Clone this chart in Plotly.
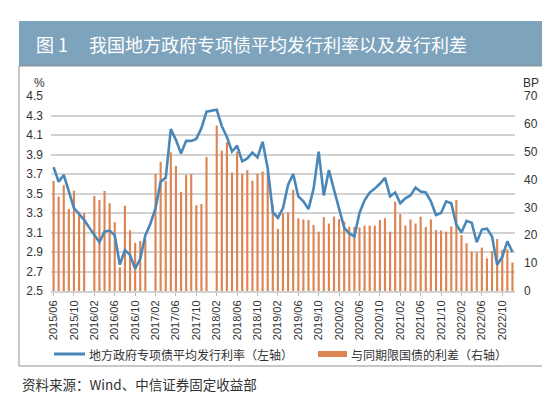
import plotly.graph_objects as go

# ---------------- data ----------------
months = [f"{y}/{m:02d}" for y in range(2015, 2023) for m in range(1, 13)][5:]  # 2015/06 .. 2022/12

rate = [3.77, 3.62, 3.69, 3.52, 3.35, 3.29, 3.23, 3.15, 3.07, 3.00,
        3.11, 3.12, 3.07, 2.77, 2.92, 2.87, 2.73, 2.83, 3.07, 3.19,
        3.35, 3.62, 3.66, 4.16, 4.05, 3.91, 4.04, 4.04, 4.06, 4.17,
        4.34, 4.35, 4.36, 4.19, 4.08, 3.93, 3.99, 3.83, 3.86, 3.92,
        3.87, 4.03, 3.76, 3.31, 3.25, 3.35, 3.59, 3.70, 3.47, 3.42,
        3.34, 3.55, 3.93, 3.48, 3.74, 3.54, 3.33, 3.15, 3.09, 3.06,
        3.30, 3.43, 3.51, 3.55, 3.60, 3.66, 3.47, 3.51, 3.40, 3.45,
        3.48, 3.56, 3.52, 3.51, 3.42, 3.28, 3.30, 3.42, 3.40, 3.18,
        3.10, 3.22, 3.20, 3.00, 3.13, 3.14, 3.06, 2.77, 2.85, 3.01,
        2.90]

spread = [39.5, 33.9, 38.0, 29.4, 36.0, 28.5, 28.0, None, 34.1, 32.7,
          35.9, 31.5, 24.7, 8.5, 30.6, 21.8, 17.3, 18.0, 18.5, None,
          42.0, 46.4, 39.5, 49.8, 44.9, 35.6, 41.6, 42.0, 30.8, 31.2,
          48.1, None, 59.4, 50.4, 53.4, 42.5, 50.0, 42.1, 43.4, 39.6,
          42.1, 42.9, 43.0, 31.0, 22.3, 27.9, 28.2, 36.3, 26.1, 25.7,
          25.5, 23.7, 21.3, 26.5, 24.2, 26.7, 25.8, 24.9, 23.1, 23.0,
          22.8, 23.5, 23.5, 23.5, 25.5, 26.1, 21.3, 32.1, 27.6, 23.5,
          25.7, 24.2, 26.7, 23.0, 25.7, 21.9, 21.7, 21.3, 23.2, 32.7,
          20.1, 17.1, 14.1, 13.8, 15.6, 11.7, 14.4, 18.7, 14.8, 15.0,
          10.2]

tick_labels = ["2015/06", "2015/10", "2016/02", "2016/06", "2016/10", "2017/02",
               "2017/06", "2017/10", "2018/02", "2018/06", "2018/10", "2019/02",
               "2019/06", "2019/10", "2020/02", "2020/06", "2020/10", "2021/02",
               "2021/06", "2021/10", "2022/02", "2022/06", "2022/10"]

rate_ticks = [2.5, 2.7, 2.9, 3.1, 3.3, 3.5, 3.7, 3.9, 4.1, 4.3, 4.5]
bp_ticks = [0, 10, 20, 30, 40, 50, 60, 70]

title_no = "图 1"
title_text = "我国地方政府专项债平均发行利率以及发行利差"
legend_line = "地方政府专项债平均发行利率（左轴）"
legend_bar = "与同期限国债的利差（右轴）"
source_text = "资料来源：Wind、中信证券固定收益部"

# ---------------- style ----------------
W, H = 550, 394
L, R, T, B = 43, 507, 88, 283
BLUE = "#4a87b9"
ORANGE = "#dc8552"
GRID = "#d2d2d2"
TXT = "#333333"
BAR_BG = "#7ea3bd"
NUM_FONT = "Liberation Sans, Arial, Noto Sans CJK SC, sans-serif"
CJK_FONT = "Noto Sans CJK SC, sans-serif"


def px(x):
    return (x - L) / (R - L)


def py(y):
    return (B - y) / (B - T)


fig = go.Figure()
fig.add_trace(go.Bar(x=months, y=spread, yaxis="y", marker=dict(color=ORANGE, line=dict(width=0)),
                     width=0.42, showlegend=False, name=legend_bar))
fig.add_trace(go.Scatter(x=months, y=rate, yaxis="y2", mode="lines",
                         line=dict(color=BLUE, width=2.6), showlegend=False, name=legend_line))

fig.update_layout(
    width=W, height=H,
    margin=dict(l=L, r=W - R, t=T, b=H - B, pad=0),
    paper_bgcolor="white", plot_bgcolor="white",
    font=dict(family=NUM_FONT, color=TXT, size=12),
    xaxis=dict(type="category", range=[-0.5, len(months) - 0.5],
               tickmode="array", tickvals=tick_labels, ticktext=tick_labels,
               tickangle=-90, tickfont=dict(size=11, color=TXT),
               ticks="outside", ticklen=3, tickcolor="#bbbbbb", tickwidth=1,
               showgrid=False, showline=True, linecolor=GRID, linewidth=2,
               zeroline=False),
    yaxis=dict(side="right", range=[0, 70], tickmode="array", tickvals=bp_ticks,
               ticktext=[str(v) for v in bp_ticks], showgrid=False, zeroline=False,
               tickfont=dict(size=12, color=TXT), ticklabelstandoff=8),
    yaxis2=dict(side="left", overlaying="y", range=[2.5, 4.5], tickmode="array",
                tickvals=rate_ticks, ticktext=[f"{v:.1f}" for v in rate_ticks],
                showgrid=True, gridcolor=GRID, gridwidth=2, zeroline=False,
                tickfont=dict(size=12, color=TXT), ticklabelstandoff=7),
    bargap=0.5,
)

shapes = [
    dict(type="rect", xref="paper", yref="paper", x0=px(11), x1=px(539), y0=py(58), y1=py(13),
         fillcolor=BAR_BG, line=dict(width=0), layer="below"),
    dict(type="rect", xref="paper", yref="paper", x0=px(11), x1=px(539), y0=py(358), y1=py(58),
         fillcolor="rgba(0,0,0,0)", line=dict(color="#8f8f8f", width=1), layer="below"),
    dict(type="line", xref="paper", yref="paper", x0=px(46), x1=px(77), y0=py(346), y1=py(346),
         line=dict(color=BLUE, width=3)),
    dict(type="rect", xref="paper", yref="paper", x0=px(310), x1=px(339), y0=py(349), y1=py(343),
         fillcolor=ORANGE, line=dict(width=0)),
]
fig.update_layout(shapes=shapes)

ann = [
    dict(text=title_no, x=px(26), y=py(36), xanchor="left", yanchor="middle",
         font=dict(family=CJK_FONT, size=18, color="white")),
    dict(text=title_text, x=px(79), y=py(36), xanchor="left", yanchor="middle",
         font=dict(family=CJK_FONT, size=18, color="white")),
    dict(text="%", x=px(31), y=py(75), xanchor="center", yanchor="middle",
         font=dict(family=NUM_FONT, size=12, color=TXT)),
    dict(text="BP", x=px(523), y=py(75), xanchor="center", yanchor="middle",
         font=dict(family=NUM_FONT, size=12, color=TXT)),
    dict(text=legend_line, x=px(79), y=py(346), xanchor="left", yanchor="middle",
         font=dict(family=CJK_FONT, size=12, color=TXT)),
    dict(text=legend_bar, x=px(341), y=py(346), xanchor="left", yanchor="middle",
         font=dict(family=CJK_FONT, size=12, color=TXT)),
    dict(text=source_text, x=px(12), y=py(376), xanchor="left", yanchor="middle",
         font=dict(family=CJK_FONT, size=13.5, color=TXT)),
]
for a in ann:
    a.update(xref="paper", yref="paper", showarrow=False)
fig.update_layout(annotations=ann)

fig.write_html("out.html")
